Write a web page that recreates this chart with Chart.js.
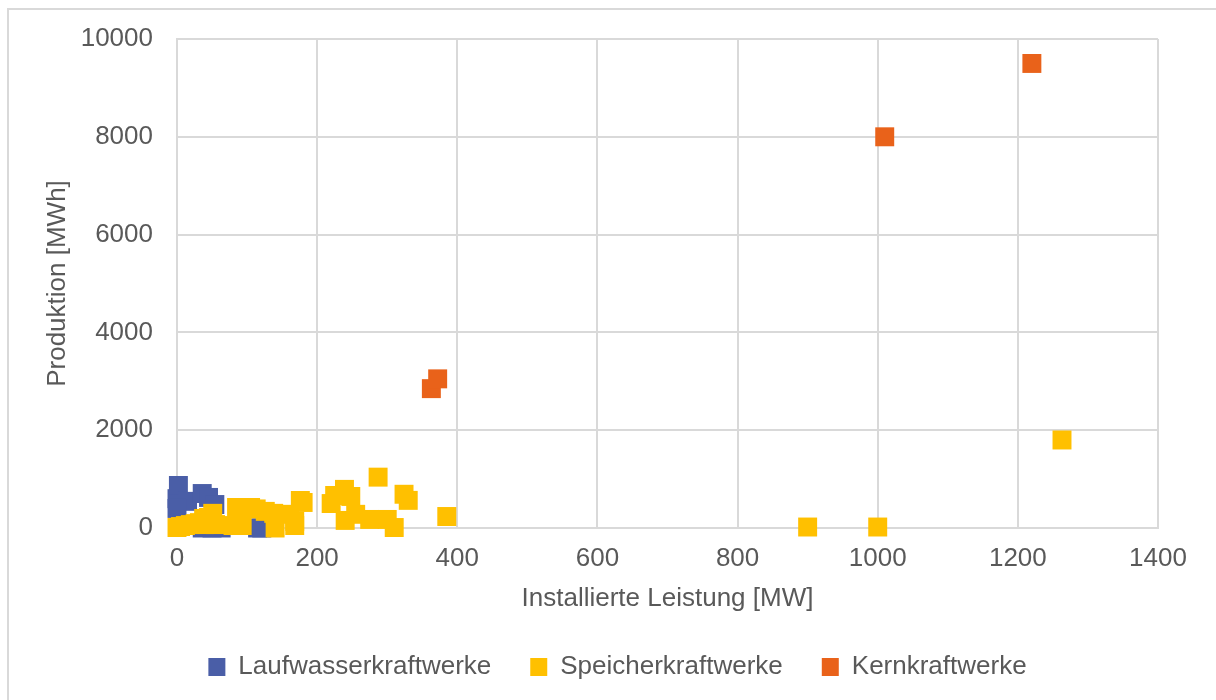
<!DOCTYPE html>
<html>
<head>
<meta charset="utf-8">
<script src="https://cdn.jsdelivr.net/npm/chart.js"></script>
<style>
  body { margin: 0; background: #fff; }
  #wrap { position: relative; width: 1216px; height: 700px; }
  #rahmen { position: absolute; left: 7px; top: 8px; width: 1216px; height: 700px; border: 2px solid #d9d9d9; box-sizing: border-box; pointer-events: none; }
</style>
</head>
<body>
<div id="wrap">
  <canvas id="streuChart" width="1216" height="700"></canvas>
  <div id="rahmen"></div>
</div>
<script>
// Installierte Leistung [MW] / Produktion [MWh]
const laufX = [0, 2, 15, 36, 45, 54, 0, 36, 50, 63, 115, 121];
const laufY = [600, 870, 545, 705, 625, 480, 400, 0, 0, 0, 0, 0];

const speicherX = [0, 5, 12, 19, 26, 32, 38, 45, 51, 85, 105, 113, 126, 138, 161, 168, 168, 176, 180,
                   40, 55, 80, 93, 140, 220, 225, 239, 248, 255, 240, 275, 300, 287, 324, 330, 385, 310,
                   900, 1000, 1263];
const speicherY = [10, 30, 50, 70, 90, 110, 195, 215, 300, 420, 420, 390, 340, 300, 280, 50, 135, 563, 522,
                   70, 70, 50, 50, 0, 500, 665, 790, 645, 280, 155, 175, 175, 1040, 690, 565, 235, 10,
                   20, 20, 1800];

const kernX = [363, 372, 1010, 1220];
const kernY = [2850, 3050, 8000, 9500];

const xTicks = [0, 200, 400, 600, 800, 1000, 1200, 1400];
const yTicks = [0, 2000, 4000, 6000, 8000, 10000];

const punkte = (xs, ys) => xs.map((x, i) => ({ x: x, y: ys[i] }));

const schrift = { family: "'Liberation Sans', Arial, sans-serif", size: 26, lineHeight: 1 };
const grau = '#595959';
const gitter = '#d9d9d9';

function serie(label, xs, ys, farbe, order) {
    return {
        label: label,
        data: punkte(xs, ys),
        backgroundColor: farbe,
        borderColor: farbe,
        borderWidth: 0,
        pointStyle: 'rect',
        pointRadius: 13.4,
        pointHoverRadius: 13.4,
        order: order,
        clip: false
    };
}

const ctx = document.getElementById('streuChart').getContext('2d');
new Chart(ctx, {
    type: 'scatter',
    data: {
        datasets: [
            serie('Laufwasserkraftwerke', laufX, laufY, '#4a5ea7', 3),
            serie('Speicherkraftwerke', speicherX, speicherY, '#ffc000', 2),
            serie('Kernkraftwerke', kernX, kernY, '#e9621a', 1)
        ]
    },
    options: {
        responsive: false,
        animation: false,
        events: [],
        layout: { padding: { left: 77, right: 58, top: 39, bottom: 10 } },
        plugins: {
            tooltip: { enabled: false },
            legend: {
                position: 'bottom',
                labels: {
                    boxWidth: 17,
                    boxHeight: 18,
                    padding: 39,
                    color: grau,
                    font: schrift,
                    sort: (a, b) => a.datasetIndex - b.datasetIndex
                }
            }
        },
        scales: {
            x: {
                type: 'linear',
                min: 0,
                max: 1400,
                afterBuildTicks: s => { s.ticks = xTicks.map(v => ({ value: v })); },
                afterFit: s => { s.height = 87; },
                ticks: { padding: 18, color: grau, font: schrift, maxRotation: 0, autoSkip: false,
                         callback: v => String(v) },
                grid: { color: gitter, lineWidth: 2, drawTicks: false },
                border: { color: gitter, width: 2 },
                title: { display: true, text: 'Installierte Leistung [MW]', color: grau, font: schrift,
                         padding: { top: 0, bottom: 3 } }
            },
            y: {
                min: 0,
                max: 10000,
                afterBuildTicks: s => { s.ticks = yTicks.map(v => ({ value: v })); },
                afterFit: s => { s.width = 100; },
                ticks: { padding: 24, color: grau, font: schrift, callback: v => String(v) },
                grid: { color: gitter, lineWidth: 2, drawTicks: false },
                border: { color: gitter, width: 2 },
                title: { display: true, text: 'Produktion [MWh]', color: grau, font: schrift,
                         padding: { top: -32, bottom: 0 } }
            }
        }
    }
});
</script>
</body>
</html>
